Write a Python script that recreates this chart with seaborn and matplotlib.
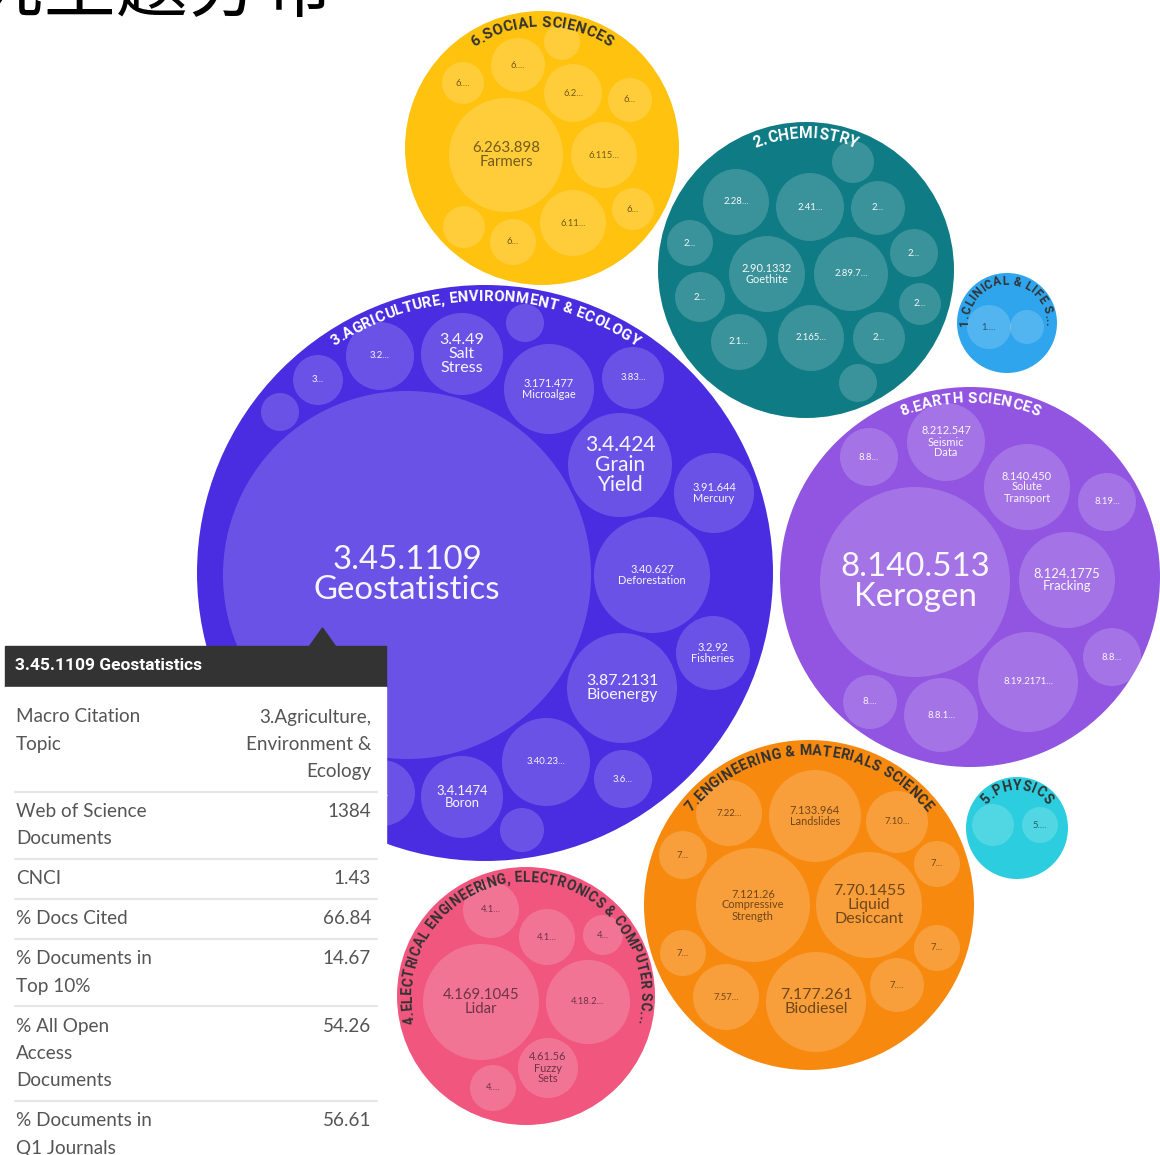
import numpy as np
import pandas as pd
import matplotlib
matplotlib.use("Agg")
import matplotlib.pyplot as plt
from matplotlib.patches import Rectangle, Polygon
from matplotlib.font_manager import FontProperties
from matplotlib.textpath import TextToPath
import seaborn as sns

W, H, DPI = 1160, 1155, 100

# ---------------------------------------------------------------------------
# Data (pixel units of the 1160x1155 picture)
# ---------------------------------------------------------------------------
TITLE = "研究主题分布"

MACRO_LABELS = [
    "6.SOCIAL SCIENCES",
    "2.CHEMISTRY",
    "1.CLINICAL & LIFE S...",
    "3.AGRICULTURE, ENVIRONMENT & ECOLOGY",
    "8.EARTH SCIENCES",
    "7.ENGINEERING & MATERIALS SCIENCE",
    "4.ELECTRICAL ENGINEERING, ELECTRONICS & COMPUTER SC...",
    "5.PHYSICS",
]
MACRO_X = [542, 806, 1007, 485, 970, 809, 526, 1017]
MACRO_Y = [148, 270, 323, 573, 577, 905, 996, 828]
MACRO_R = [137, 148, 50, 288, 190, 165, 129, 51]

# inner bubbles (meso topics): parent index, label, centre, radius
MESO_PARENT = (
    [0] * 11 + [1] * 14 + [2] * 2 + [3] * 18 + [4] * 10 + [5] * 12 + [6] * 7 + [7] * 2
)
MESO_LABEL = [
    # 6 social sciences
    "6.263.898\nFarmers", "6.115...", "6.2...", "6....", "6....", "",
    "6...", "6.11...", "6...", "6...", "",
    # 2 chemistry
    "2.90.1332\nGoethite", "2.89.7...", "2.28...", "2.41...", "2...", "",
    "2...", "2...", "2...", "2...", "2.1...", "2.165...", "2...", "",
    # 1 clinical
    "1....", "",
    # 3 agriculture
    "3.45.1109\nGeostatistics", "3.4.49\nSalt\nStress", "3.2...", "3...", "", "",
    "3.171.477\nMicroalgae", "3.83...", "3.4.424\nGrain\nYield", "3.91.644\nMercury",
    "3.40.627\nDeforestation", "3.2.92\nFisheries", "3.87.2131\nBioenergy",
    "3.40.23...", "3.6...", "3.4.1474\nBoron", "", "3....",
    # 8 earth sciences
    "8.140.513\nKerogen", "8.212.547\nSeismic\nData", "8.8...",
    "8.140.450\nSolute\nTransport", "8.19...", "8.124.1775\nFracking", "8.8...",
    "8.19.2171...", "8.8.1...", "8....",
    # 7 engineering
    "7.133.964\nLandslides", "7.22...", "7.10...", "7...", "7...",
    "7.121.26\nCompressive\nStrength", "7.70.1455\nLiquid\nDesiccant", "7...", "7...",
    "7.57...", "7.177.261\nBiodiesel", "7....",
    # 4 electrical
    "4.169.1045\nLidar", "4.18.2...", "4.1...", "4.1...", "4...",
    "4.61.56\nFuzzy\nSets", "4....",
    # 5 physics
    "", "5....",
]
MESO_X = [
    506, 604, 573, 518, 463, 562, 630, 573, 633, 513, 464,
    767, 851, 736, 810, 878, 853, 690, 914, 700, 920, 739, 811, 879, 858,
    989, 1027,
    407, 462, 380, 318, 280, 525, 549, 633, 620, 714, 652, 713, 622, 546, 623, 462, 522, 382,
    915, 946, 869, 1027, 1107, 1067, 1112, 1028, 941, 870,
    815, 729, 897, 683, 937, 753, 869, 683, 937, 726, 816, 897,
    481, 588, 491, 547, 603, 548, 493,
    993, 1040,
]
MESO_Y = [
    155, 155, 93, 65, 83, 42, 100, 223, 209, 242, 227,
    274, 274, 202, 207, 208, 162, 243, 253, 297, 304, 342, 338, 338, 383,
    327, 327,
    575, 354, 356, 380, 412, 323, 389, 378, 465, 493, 575, 653, 688, 762, 779, 797, 830, 793,
    582, 442, 457, 487, 502, 580, 657, 682, 715, 702,
    816, 813, 822, 855, 864, 905, 905, 953, 948, 997, 1002, 985,
    1002, 1002, 910, 937, 935, 1068, 1088,
    825, 825,
]
MESO_R = [
    57, 33, 29, 27, 21, 18, 22, 33, 21, 23, 21,
    38, 37, 33, 34, 27, 21, 23, 24, 25, 21, 28, 33, 26, 19,
    22, 17,
    184, 41, 34, 25, 19, 19, 45, 31, 52, 40, 58, 37, 55, 44, 29, 41, 22, 33,
    95, 39, 29, 43, 29, 48, 29, 50, 37, 27,
    46, 33, 31, 24, 23, 57, 53, 23, 23, 33, 50, 27,
    58, 42, 28, 28, 20, 30, 23,
    21, 18,
]

# tooltip of the hovered bubble
TIP_TITLE = "3.45.1109 Geostatistics"
TIP_KEYS = [
    "Macro Citation\nTopic",
    "Web of Science\nDocuments",
    "CNCI",
    "% Docs Cited",
    "% Documents in\nTop 10%",
    "% All Open\nAccess\nDocuments",
    "% Documents in\nQ1 Journals",
]
TIP_VALUES = ["3.Agriculture,\nEnvironment &\nEcology", "1384", "1.43", "66.84", "14.67", "54.26", "56.61"]

# ---------------------------------------------------------------------------
# Styles
# ---------------------------------------------------------------------------
MACRO_COLORS = ["#FFC20F", "#0F7B85", "#2EA5EC", "#4A2DE1", "#9155E1", "#F7890F", "#F0567E", "#2BCDDE"]
DARK_TEXT = [True, False, True, False, False, True, True, True]
ARC_PT = [10.8, 11.2, 8.6, 10.8, 10.8, 10.3, 9.8, 9.8]
ARC_GAP = [5, 5, 3, 5, 5, 5, 5, 3]
LABEL_PX = {
    "3.45.1109\nGeostatistics": 33, "8.140.513\nKerogen": 33, "3.4.424\nGrain\nYield": 21,
    "3.87.2131\nBioenergy": 16, "3.4.49\nSalt\nStress": 16, "7.70.1455\nLiquid\nDesiccant": 16,
    "7.177.261\nBiodiesel": 16, "6.263.898\nFarmers": 15, "4.169.1045\nLidar": 15,
    "3.4.1474\nBoron": 13, "8.124.1775\nFracking": 13,
}
BOLD_FONT = "Roboto"

sns.set_theme(style="white")
plt.rcParams["font.family"] = ["Lato", "DejaVu Sans"]

fig = plt.figure(figsize=(W / DPI, H / DPI), dpi=DPI)
ax = fig.add_axes([0, 0, 1, 1])


def pt_area(r):
    # scatter size (points^2) of a circle with radius r pixels
    return (2 * np.asarray(r) * 72.0 / DPI) ** 2


macro = pd.DataFrame({"name": MACRO_LABELS, "x": MACRO_X, "y": MACRO_Y, "r": MACRO_R})
meso = pd.DataFrame({"parent": MESO_PARENT, "label": MESO_LABEL, "x": MESO_X, "y": MESO_Y, "r": MESO_R})

sns.scatterplot(data=macro, x="x", y="y", hue="name", palette=dict(zip(MACRO_LABELS, MACRO_COLORS)),
                s=pt_area(macro["r"]), linewidth=0, legend=False, ax=ax, zorder=1)
sns.scatterplot(data=meso, x="x", y="y", color="white", alpha=0.18,
                s=pt_area(meso["r"]), linewidth=0, legend=False, ax=ax, zorder=2)

ax.set_xlim(0, W)
ax.set_ylim(H, 0)
ax.axis("off")

# inner labels
for lab, x, y, g in zip(meso["label"], meso["x"], meso["y"], meso["parent"]):
    if not lab:
        continue
    px = LABEL_PX.get(lab, 9.5 if lab.endswith("...") else 11)
    col = (0, 0, 0, 0.55) if DARK_TEXT[g] else (1, 1, 1, 0.95)
    ax.text(x, y, lab, fontsize=px * 0.72, ha="center", va="center", multialignment="center",
            linespacing=1.0, color=col, zorder=5)

# curved macro labels along the top of each outer bubble
t2p = TextToPath()


def text_px(s, prop):
    w, _, _ = t2p.get_text_width_height_descent(s, prop, ismath=False)
    return w * DPI / 72.0


def arc_text(s, cx, cy, R, size_pt, gap, color):
    prop = FontProperties(family=BOLD_FONT, weight="bold", size=size_pt)
    fs_px = size_pt * DPI / 72.0
    rb = R - gap - 0.71 * fs_px
    ref = text_px("||", prop)
    widths = [text_px("|" + ch + "|", prop) - ref + 0.3 for ch in s]
    a = np.pi / 2 + sum(widths) / rb / 2
    for ch, w in zip(s, widths):
        mid = a - w / 2 / rb
        ax.text(cx + rb * np.cos(mid), cy - rb * np.sin(mid), ch, fontproperties=prop, color=color,
                rotation=np.degrees(mid) - 90, rotation_mode="anchor", ha="center", va="baseline", zorder=6)
        a -= w / rb


for i, name in enumerate(MACRO_LABELS):
    arc_text(name, MACRO_X[i], MACRO_Y[i], MACRO_R[i], ARC_PT[i], ARC_GAP[i],
             "#333333" if DARK_TEXT[i] else "white")

# title (cut by the top of the screenshot, as in the reference)
ax.text(333, 11, TITLE, ha="right", va="baseline", fontsize=52, color="black",
        family=["Noto Sans CJK SC", "DejaVu Sans"], weight="light", zorder=6)

# tooltip
TIP_X0, TIP_X1 = 5, 386
ax.add_patch(Polygon([(309, 647), (336, 647), (322.5, 628)], closed=True, color="#333333", zorder=10))
ax.add_patch(Rectangle((TIP_X0, 646), TIP_X1 - TIP_X0, 41, color="#333333", zorder=10))
ax.add_patch(Rectangle((TIP_X0, 687), TIP_X1 - TIP_X0, H - 687 + 5, color="white", zorder=10))
ax.text(15, 665, TIP_TITLE, ha="left", va="center", color="white", fontsize=12.5,
        family=BOLD_FONT, weight="bold", zorder=11)

LINE = 27.3
y0 = 717
for k, (key, val) in enumerate(zip(TIP_KEYS, TIP_VALUES)):
    klines, vlines = key.split("\n"), val.split("\n")
    for j, t in enumerate(klines):
        ax.text(16, y0 + j * LINE, t, ha="left", va="center", color="#555555", fontsize=13.6, zorder=11)
    for j, t in enumerate(vlines):
        ax.text(371, y0 + j * LINE, t, ha="right", va="center", color="#555555", fontsize=13.6, zorder=11)
    n = max(len(klines), len(vlines))
    sep = y0 + (n - 1) * LINE + 20
    if k < len(TIP_KEYS) - 1:
        ax.plot([15, 377], [sep, sep], color="#e6e6e6", lw=1.5, zorder=11)
    y0 = sep + 20

fig.savefig("out.png", dpi=DPI)
